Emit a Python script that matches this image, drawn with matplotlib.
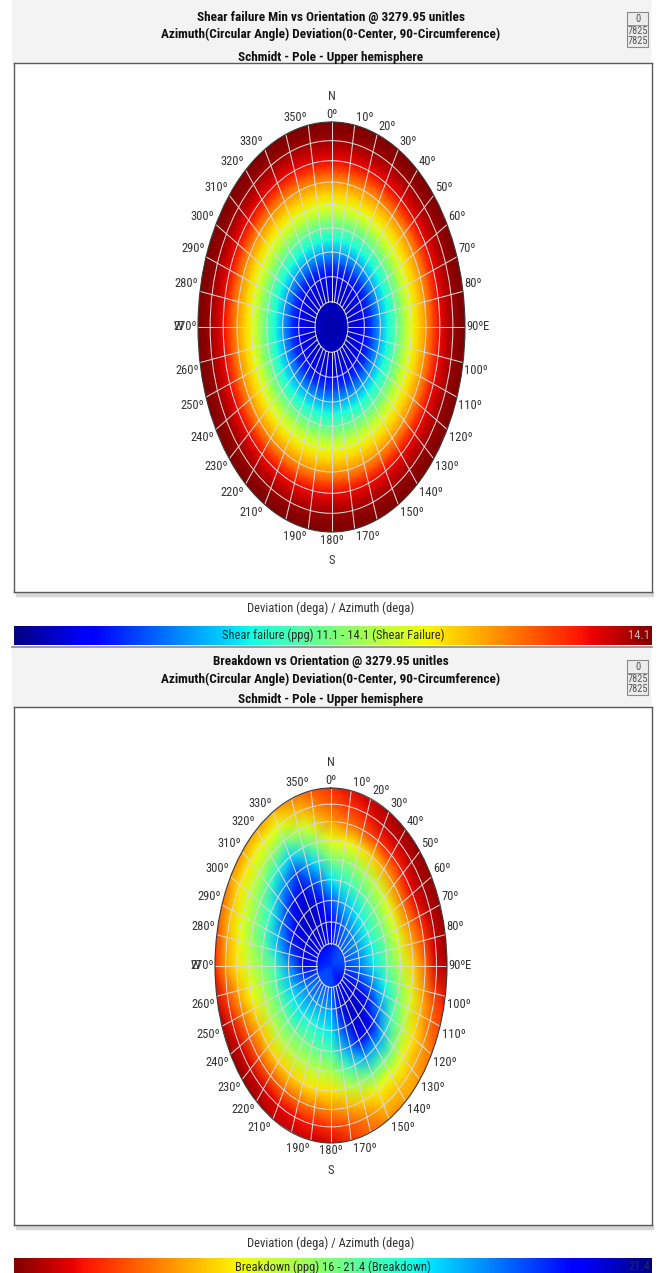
import numpy as np
import matplotlib
matplotlib.use('Agg')
import matplotlib.pyplot as plt
from matplotlib import cm, colors, font_manager
from matplotlib.patches import Rectangle

W, H = 660, 1273

names = {f.name for f in font_manager.fontManager.ttflist}
FONT = 'Liberation Sans'
for cand in ['Roboto Condensed', 'PT Sans Narrow', 'Archivo Narrow',
             'Liberation Sans Narrow', 'Open Sans Condensed']:
    if cand in names:
        FONT = cand
        break
plt.rcParams['font.family'] = [FONT, 'DejaVu Sans']

# ---- data ----
dev_rings = [10, 20, 30, 40, 50, 60, 70, 80]
az_labels = [0, 10, 20, 30, 40, 50, 60, 70, 80, 90, 100, 110, 120, 130, 140, 150,
             170, 180, 190, 210, 220, 230, 240, 250, 260, 270, 280, 290, 300,
             310, 320, 330, 350]

# shear failure (ppg): radial profile, same at every azimuth
shear_dev = [0, 5, 10, 15, 20, 25, 30, 35, 40, 45, 50, 55, 60, 65, 70, 75, 80, 85, 90]
shear_ppg = [11.22, 11.24, 11.28, 11.34, 11.43, 11.67, 11.97, 12.24, 12.48, 12.75,
             12.99, 13.17, 13.35, 13.59, 13.80, 13.92, 14.01, 14.07, 14.10]
shear_range = (11.1, 14.1)

# breakdown (ppg): one row per azimuth, values at deviation 0..90
breakdown_dev = [0, 10, 20, 30, 40, 50, 60, 70, 80, 90]
breakdown_az = [0, 15, 30, 45, 60, 75, 90, 105, 120, 135, 150, 165,
                180, 195, 210, 225, 240, 255, 270, 285, 300, 315, 330, 345]
breakdown_ppg = [
    [20.4, 20.6, 20.8, 20.3, 19.5, 18.7, 18.0, 17.4, 17.0, 16.7],
    [20.4, 20.5, 20.4, 19.8, 19.2, 18.6, 17.9, 17.1, 16.7, 16.4],
    [20.4, 20.4, 20.1, 19.6, 19.0, 18.4, 17.7, 16.8, 16.4, 16.2],
    [20.4, 20.3, 20.0, 19.4, 18.8, 18.2, 17.4, 16.7, 16.3, 16.1],
    [20.4, 20.3, 19.9, 19.3, 18.7, 18.0, 17.2, 16.5, 16.2, 16.1],
    [20.4, 20.3, 20.0, 19.4, 18.8, 18.1, 17.4, 16.8, 16.3, 16.1],
    [20.4, 20.4, 20.1, 19.5, 18.9, 18.3, 17.7, 17.1, 16.4, 16.2],
    [20.4, 20.5, 20.4, 20.0, 19.4, 18.7, 18.1, 17.5, 17.0, 16.7],
    [20.4, 20.6, 20.9, 20.6, 20.0, 19.1, 18.4, 17.8, 17.4, 17.1],
    [20.4, 20.7, 21.0, 21.0, 20.7, 19.8, 18.8, 18.0, 17.6, 17.4],
    [20.4, 20.7, 21.0, 21.1, 20.8, 19.8, 18.8, 17.9, 17.6, 17.3],
    [20.4, 20.5, 20.6, 20.3, 19.8, 19.1, 18.3, 17.6, 17.1, 16.9],
    [20.4, 20.3, 19.9, 19.5, 19.0, 18.4, 17.8, 17.3, 16.8, 16.4],
    [20.4, 20.3, 19.9, 19.4, 18.9, 18.3, 17.8, 17.2, 16.6, 16.3],
    [20.4, 20.3, 19.9, 19.3, 18.8, 18.3, 17.7, 17.1, 16.5, 16.3],
    [20.4, 20.3, 20.0, 19.5, 18.9, 18.3, 17.7, 17.0, 16.4, 16.1],
    [20.4, 20.3, 20.0, 19.5, 18.9, 18.3, 17.6, 17.0, 16.4, 16.1],
    [20.4, 20.5, 20.4, 19.7, 19.0, 18.4, 17.9, 17.4, 16.8, 16.3],
    [20.4, 20.6, 20.7, 19.9, 19.1, 18.6, 18.2, 17.8, 17.4, 16.7],
    [20.4, 20.7, 20.9, 20.4, 19.7, 19.0, 18.5, 18.0, 17.6, 17.0],
    [20.4, 20.8, 21.0, 20.8, 20.1, 19.3, 18.7, 18.2, 17.8, 17.3],
    [20.4, 20.8, 21.0, 21.0, 20.6, 19.9, 19.2, 18.4, 17.9, 17.4],
    [20.4, 20.8, 21.0, 21.1, 20.9, 20.4, 19.6, 18.7, 18.0, 17.5],
    [20.4, 20.7, 20.9, 20.8, 20.3, 19.6, 18.8, 18.1, 17.5, 17.1],
]
breakdown_range = (16.0, 21.4)

GRID = '#d9d9d9'
TXT = '#333333'
FS = 9


def box(x0, y0, x1, y1):
    return [x0 / W, 1 - y1 / H, (x1 - x0) / W, (y1 - y0) / H]


def fy(y):
    return 1 - y / H


def schmidt(dev):
    # equal-area (Schmidt) radius, 1 at 90 deg
    return np.sqrt(2) * np.sin(np.radians(np.asarray(dev, float)) / 2)


def stereonet(ax, az, dev, values, vrange, cmap):
    az = np.append(az, 360)
    vals = np.column_stack([values, values[:, 0]])
    step = np.radians(az[1] - az[0])
    r = schmidt(dev)
    r[-1] = r[-1] / np.cos(step / 2)  # cover the rim between mesh nodes
    T, R = np.meshgrid(np.radians(az), r)
    ax.pcolormesh(T, R, vals, shading='gouraud', cmap=cmap,
                  vmin=vrange[0], vmax=vrange[1])
    ax.set_aspect('auto')
    ax.set_theta_zero_location('N')
    ax.set_theta_direction(-1)
    ax.set_ylim(0, 1)
    ax.set_facecolor('none')
    ax.set_rgrids(schmidt(dev_rings), labels=[''] * len(dev_rings))
    ax.yaxis.grid(True, color=GRID, lw=0.75)
    ax.set_xticks([])
    ax.xaxis.grid(False)
    ax.tick_params(length=0)
    ax.spines['polar'].set_edgecolor('#3a3a3a')
    ax.spines['polar'].set_linewidth(0.8)
    for a in range(0, 360, 10):
        ax.plot([np.radians(a)] * 2, [schmidt(10), 1], color=GRID, lw=0.75)
    # labels sit with their nearest corner on the rim
    for a in az_labels:
        t = np.radians(a)
        s, c = np.sin(t), np.cos(t)
        ha = 'left' if s > 0.05 else ('right' if s < -0.05 else 'center')
        va = 'bottom' if c > 0.05 else ('top' if c < -0.05 else 'center')
        ax.annotate(f'{a}º', xy=(t, 1), xytext=(1.5 * np.sign(round(s, 2)), 1.5 * np.sign(round(c, 2))),
                    textcoords='offset pixels', ha=ha, va=va,
                    fontsize=FS, color=TXT, annotation_clip=False)
    for lab, t, off in [('N', 0, (0, 25)), ('S', 180, (0, -28)),
                        ('E', 90, (21, 0)), ('W', 270, (-20, 0))]:
        ax.annotate(lab, xy=(np.radians(t), 1), xytext=off, textcoords='offset pixels',
                    ha='center', va='center', fontsize=FS, color=TXT,
                    annotation_clip=False)


def panel(fig, p):
    # header
    fig.add_artist(Rectangle((12 / W, fy(p['head'][1])), (650 - 12) / W,
                             (p['head'][1] - p['head'][0]) / H,
                             transform=fig.transFigure, color='#f3f3f3', zorder=0))
    for txt, y in zip(p['titles'], p['title_y']):
        fig.text(331 / W, fy(y), txt, ha='center', va='center', fontsize=9.5,
                 fontweight='bold', color='#111111')
    # small box in the corner
    y0 = p['head'][0] + 12
    fig.add_artist(Rectangle((627 / W, fy(y0 + 35)), 21 / W, 35 / H,
                             transform=fig.transFigure, fc='#ececec', ec='#8a8a8a',
                             lw=0.8, zorder=1))
    fig.add_artist(plt.Line2D([627 / W, 648 / W], [fy(y0 + 13)] * 2,
                              transform=fig.transFigure, color='#8a8a8a', lw=0.6))
    for s, dy in [('0', 6.5), ('7825', 19), ('7825', 29)]:
        fig.text(637.5 / W, fy(y0 + dy), s, ha='center', va='center', fontsize=7.5,
                 color='#555555')
    # frame
    f0, f1 = p['frame']
    fig.add_artist(Rectangle((16 / W, fy(f1 + 4)), 637 / W, 4 / H,
                             transform=fig.transFigure, color='#d6d6d6', zorder=0))
    fr = fig.add_axes(box(14, f0, 652, f1))
    fr.set_xticks([])
    fr.set_yticks([])
    for s in fr.spines.values():
        s.set_color('#5a5a5a')
        s.set_linewidth(1.0)
    # stereonet
    ax = fig.add_axes(box(*p['net']), projection='polar')
    stereonet(ax, p['az'], p['dev'], p['values'], p['range'], p['cmap'])
    # axis caption
    fig.text(331 / W, fy(p['cap_y']), 'Deviation (dega) / Azimuth (dega)',
             ha='center', va='center', fontsize=FS, color=TXT)
    # colour bar
    c0, c1 = p['cbar']
    cax = fig.add_axes(box(14, c0, 652, c1))
    sm = cm.ScalarMappable(norm=colors.Normalize(*p['range']), cmap=p['cmap'])
    cb = fig.colorbar(sm, cax=cax, orientation='horizontal')
    cb.set_ticks([])
    cb.outline.set_visible(False)
    cax.text(0.5, p['ctext_y'], p['cbar_text'], transform=cax.transAxes, ha='center',
             va='center', fontsize=FS, color='#2b2b2b')
    cax.text(0.997, p['ctext_y'], p['cbar_max'], transform=cax.transAxes, ha='right',
             va='center', fontsize=FS, color=p['max_color'])


fig = plt.figure(figsize=(W / 100, H / 100), dpi=100)

shear_az = np.arange(0, 360, 5)
shear_grid = np.tile(np.array(shear_ppg)[:, None], (1, len(shear_az)))

panel(fig, dict(
    head=(0, 62),
    titles=['Shear failure Min vs Orientation @ 3279.95 unitles',
            'Azimuth(Circular Angle) Deviation(0-Center, 90-Circumference)',
            'Schmidt - Pole - Upper hemisphere'],
    title_y=[17, 34, 57],
    frame=(63, 592),
    net=(198, 122, 465, 532),
    az=shear_az, dev=shear_dev, values=shear_grid,
    range=shear_range, cmap='jet',
    cap_y=608, cbar=(626, 645), ctext_y=0.5, max_color='#c4b4b4',
    cbar_text='Shear failure (ppg) 11.1 - 14.1 (Shear Failure)', cbar_max='14.1'))

fig.add_artist(plt.Line2D([12 / W, 652 / W], [fy(646.5)] * 2,
                          transform=fig.transFigure, color='#8a8a8a', lw=1.2))

panel(fig, dict(
    head=(648, 706),
    titles=['Breakdown vs Orientation @ 3279.95 unitles',
            'Azimuth(Circular Angle) Deviation(0-Center, 90-Circumference)',
            'Schmidt - Pole - Upper hemisphere'],
    title_y=[662, 679, 700],
    frame=(707, 1225),
    net=(215, 788, 447, 1143),
    az=np.array(breakdown_az), dev=breakdown_dev, values=np.array(breakdown_ppg).T,
    range=breakdown_range, cmap='jet_r',
    cap_y=1243, cbar=(1258, 1278), ctext_y=0.55, max_color='#2b2b40',
    cbar_text='Breakdown (ppg) 16 - 21.4 (Breakdown)', cbar_max='21.4'))

fig.savefig('out.png', dpi=100)
